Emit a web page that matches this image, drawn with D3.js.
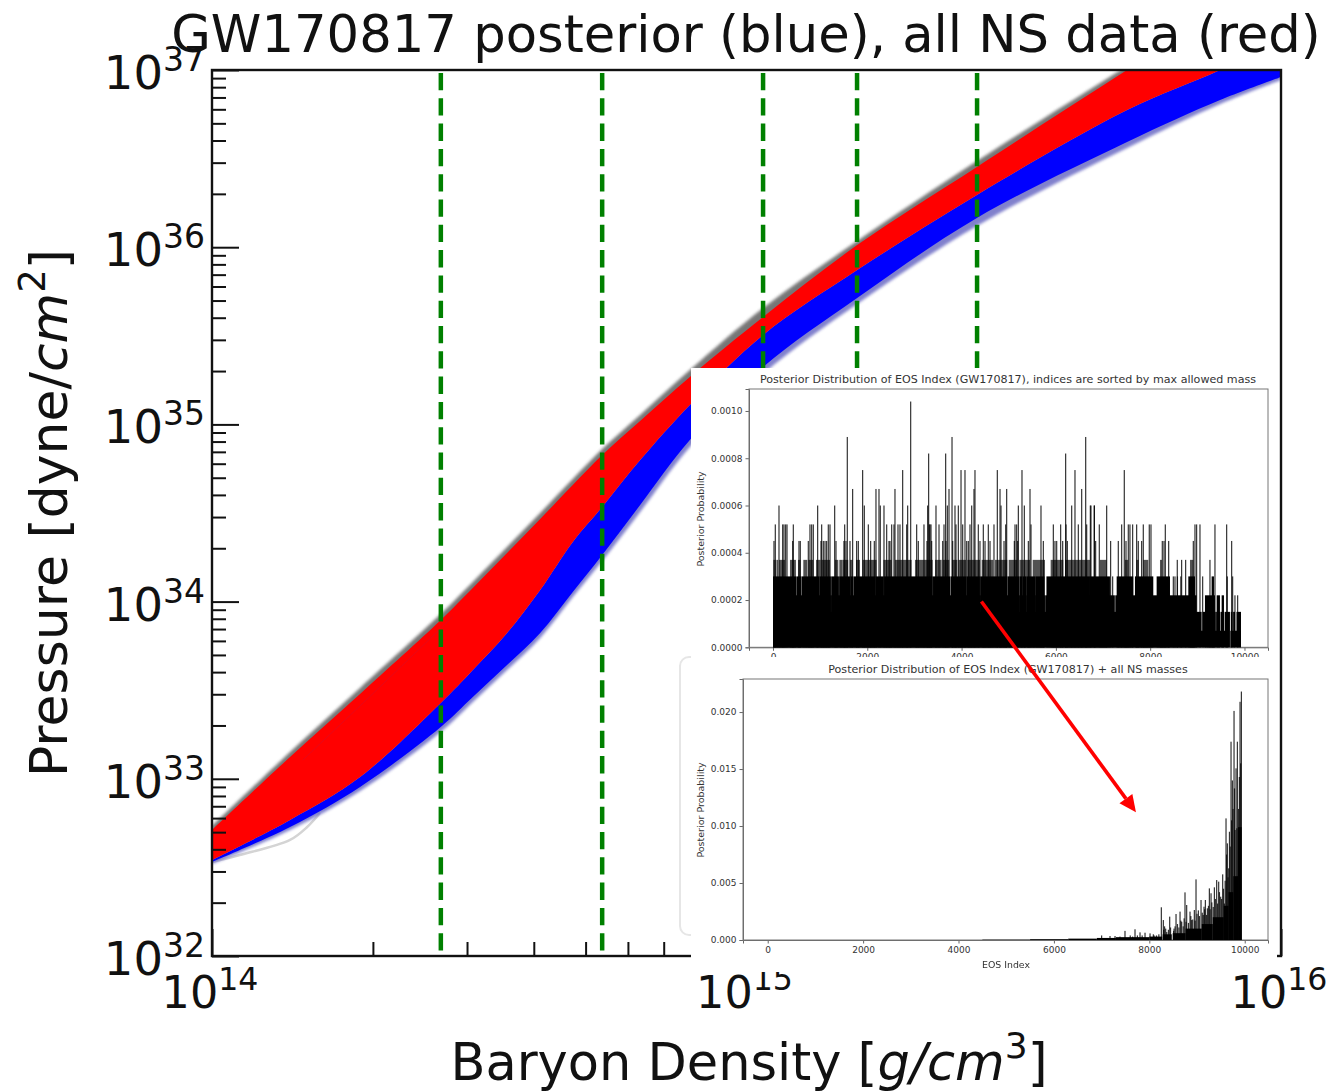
<!DOCTYPE html>
<html>
<head>
<meta charset="utf-8">
<title>GW170817 posterior</title>
<script src="https://cdn.jsdelivr.net/npm/d3@7"></script>
<style>
  html, body { margin: 0; background: #fff; }
  svg { display: block; }
  text { font-family: "DejaVu Sans", sans-serif; fill: #111; }
  .inset text { fill: #333; }
  .inset .domain, .inset .tick line { stroke: #666; stroke-width: 1; }
</style>
</head>
<body>
<svg id="chart" width="1332" height="1091"></svg>
<script>
// === Datos: bandas (log10 densidad, log10 presion) ===
const logDensity = [14.000, 14.146, 14.277, 14.428, 14.488, 14.552, 14.614, 14.675, 14.730, 14.801, 14.894, 15.031, 15.207, 15.431, 15.712, 15.886, 16.000];
const haloTop    = [32.734, 33.151, 33.513, 33.930, 34.111, 34.308, 34.500, 34.692, 34.861, 35.053, 35.307, 35.657, 36.035, 36.486, 37.023, 37.350, 37.553];
const redTop     = [32.711, 33.123, 33.479, 33.896, 34.077, 34.274, 34.466, 34.658, 34.827, 35.019, 35.268, 35.606, 36.012, 36.453, 37.000, 37.327, 37.536];
const redBottom  = [32.542, 32.768, 33.010, 33.428, 33.614, 33.823, 34.066, 34.337, 34.534, 34.799, 35.110, 35.505, 35.871, 36.295, 36.774, 37.000, 37.169];
const blueBottom = [32.530, 32.728, 32.954, 33.293, 33.462, 33.642, 33.823, 34.054, 34.263, 34.545, 34.912, 35.324, 35.713, 36.165, 36.594, 36.831, 36.960];
const haloBottom = [32.519, 32.711, 32.931, 33.265, 33.434, 33.614, 33.795, 34.026, 34.229, 34.506, 34.873, 35.285, 35.680, 36.120, 36.560, 36.808, 36.944];

// curva gris suelta abajo a la izquierda, y linea tenue dentro del rojo
const strayDensity = [14.000, 14.052, 14.146, 14.178, 14.202];
const strayPressure = [32.530, 32.570, 32.655, 32.728, 32.807];
const faintDensity = [14.170, 14.314, 14.450];
const faintPressure = [33.106, 33.518, 33.913];

const densityMarks = [2.68e14, 5.37e14, 1.074e15, 1.61e15, 2.70e15];

const xMajor = [1e14, 1e15, 1e16];
const yMajor = [1e32, 1e33, 1e34, 1e35, 1e36, 1e37];
const multiples = [2, 3, 4, 5, 6, 7, 8, 9];

// === Datos: inset 1 (GW170817) ===
const eos1Probs = [0.00104, 0.00089, 0.00082, 0.00075, 0.00067, 0.0006, 0.00052, 0.00045, 0.00037, 0.0003, 0.00022];
const eos1Spikes = [
  [2920],
  [1576, 3797, 6632],
  [3301, 3662, 6207],
  [1901, 2750, 3988, 4072, 4284, 4758, 5281, 6405, 7451],
  [1689, 2184, 2248, 2587, 3733, 4263, 4815, 4956, 5451, 6547],
  [127, 947, 1308, 1937, 2276, 2354, 2856, 3280, 3457, 3698, 3860, 3931, 4214, 4836, 5204, 5331, 5684, 6335, 6731, 6816, 6744, 6815, 7077],
  [49, 205, 233, 268, 297, 431, 784, 820, 855, 1032, 1173, 1209, 1520, 2022, 2411, 2517, 2566, 2651, 2693, 2835, 3047, 3202, 3316, 3351,
   3330, 3521, 3627, 3881, 4023, 4178, 4355, 4461, 4567, 4687, 4935, 5133, 5168, 5472, 5946, 6101, 6215, 6476, 6653,
   6921, 7395, 7536, 7571, 7628, 7713, 7854, 7981, 8017, 8321, 8950, 8985, 9056, 9374, 9622],
  [21, 417, 551, 579, 749, 1018, 1067, 1103, 1138, 1336, 1505, 1548, 1633, 1774, 1810, 2071, 2149, 2460, 2481, 3082, 3266,
   3365, 3599, 3669, 3811, 4108, 4143, 4390, 4497, 4603, 4900, 5119, 5189, 5416, 5734, 5981, 6017, 6144, 6243,
   6843, 7161, 7324, 7487, 7748, 7819, 8257, 8293, 8392, 8915, 9728],
  [8575, 8667, 8752, 9268],
  [7204, 8491, 8526, 8578, 8650, 9113, 9636, 9749],
  [9798, 9855]
];
const eos1BlockProbs = [0.00037, 0.0003, 0.00022, 0.00015, 0.00007];
const eos1BlockAlpha = [0.68, 1, 1, 1, 1];
const eos1Blocks = [
  [[7, 60], [72, 110], [125, 254], [360, 487], [530, 586], [643, 728], [749, 855], [912, 1010], [1032, 1209], [1315, 1385], [1407, 1477], [1477, 1597],
   [1633, 1689], [1760, 1845], [1901, 2198], [2340, 2517], [2587, 2940], [3011, 3387], [3436, 3577], [3599, 3740], [3797, 3910], [3931, 4094],
   [4122, 4391], [4426, 4673], [4709, 4970], [4999, 5182], [5225, 5451], [5508, 5769], [5889, 6158], [6193, 6723], [6935, 7077], [7465, 7536],
   [7705, 7755], [7854, 7960], [8208, 8250], [8844, 8915]],
  [[0, 488], [494, 606], [612, 985], [990, 1228], [1234, 1398], [1404, 1638], [1644, 1698], [1704, 2178], [2184, 2350], [2356, 3388], [3394, 3763],
   [3769, 4106], [4112, 4388], [4394, 4968], [4974, 5228], [5234, 5288], [5294, 5368], [5374, 5558], [5564, 5758], [5800, 6723], [6723, 7147],
   [7289, 7642], [7677, 8066], [8137, 8420], [8809, 8950], [9303, 9353]],
  [[0, 675], [681, 1227], [1233, 2218], [2224, 4388], [4394, 4777], [4783, 5237], [5243, 5308], [5314, 5378], [5384, 5555], [5561, 5767], [5773, 6594],
   [6600, 7250], [7260, 8985], [9162, 9374], [9410, 9480], [9516, 9565]],
  [[0, 9091], [9113, 9190], [9200, 9390], [9400, 9490], [9500, 9570], [9582, 9692], [9710, 9740], [9760, 9800], [9830, 9926]],
  [[0, 9664], [9700, 9926]]
];

// === Datos: inset 2 (GW170817 + masas NS) ===
const eos2Start = [4500, 5500, 6300, 6900, 7300, 8000, 8280, 8490, 8760, 9100, 9330, 9560, 9660, 9760, 9860];
const eos2End   = [5500, 6300, 6900, 7300, 8000, 8270, 8470, 8760, 9100, 9330, 9560, 9660, 9760, 9860, 9935];
const eos2Prob  = [0.00003, 0.00007, 0.00012, 0.00018, 0.00025, 0.0003, 0.0005, 0.0006, 0.001, 0.0014, 0.002, 0.003, 0.0042, 0.0056, 0.0099];
const eos2SpikeIdx  = [7000, 7176, 7281, 7385, 7490, 7600, 7650, 7700, 7750, 7805, 7850, 7910, 8015, 8084, 8100, 8150, 8200, 8252, 8294, 8300, 8320, 8343, 8365, 8400, 8427, 8445,
  8510, 8518, 8540, 8560, 8590, 8620, 8644, 8660, 8679, 8710, 8730, 8748, 8770, 8783, 8820, 8853, 8870, 8888, 8910, 8944, 8960, 8979,
  9000, 9028, 9050, 9084, 9110, 9130, 9147, 9160, 9175, 9200, 9217, 9240, 9259, 9275, 9294, 9310, 9340, 9364, 9385, 9412, 9430, 9454, 9470, 9496, 9515, 9538, 9555, 9573, 9590,
  9608, 9620, 9636, 9650, 9664, 9680, 9695, 9713, 9725, 9741, 9755, 9776, 9785, 9797, 9818, 9835, 9846, 9870, 9888, 9902, 9915, 9930];
const eos2SpikeProb = [0.0004, 0.00035, 0.00035, 0.0003, 0.0008, 0.0004, 0.0003, 0.00094, 0.0004, 0.00067, 0.0004, 0.00064, 0.00058, 0.0005, 0.0004, 0.0004, 0.0005, 0.00287, 0.00175, 0.0009, 0.0012, 0.001, 0.0007, 0.0009, 0.00205, 0.0011,
  0.0008, 0.001, 0.0012, 0.00228, 0.0014, 0.0011, 0.00249, 0.0017, 0.0016, 0.0012, 0.0019, 0.00418, 0.0016, 0.00307, 0.0015, 0.00249, 0.0021, 0.00175, 0.0018, 0.00263, 0.0017, 0.00532,
  0.0023, 0.0026, 0.0021, 0.00351, 0.0024, 0.0022, 0.00292, 0.0027, 0.00351, 0.0022, 0.00278, 0.003, 0.00453, 0.0027, 0.0041, 0.0033, 0.0029, 0.00462, 0.0036, 0.00526, 0.0032, 0.00512, 0.0042, 0.0038, 0.0036, 0.00576, 0.0045, 0.0032, 0.0052,
  0.01067, 0.0075, 0.00848, 0.0055, 0.00629, 0.0095, 0.0082, 0.0174, 0.0105, 0.014, 0.0115, 0.0201, 0.0133, 0.00965, 0.01506, 0.0098, 0.0174, 0.0115, 0.0143, 0.0209, 0.0155, 0.0218];

const eos1Ticks = [0, 0.0002, 0.0004, 0.0006, 0.0008, 0.001];
const eos2Ticks = [0, 0.005, 0.01, 0.015, 0.02];
const eosIndexTicks = [0, 2000, 4000, 6000, 8000, 10000];

// flecha: de un punto del inset 1 a uno del inset 2
const arrowFrom = { index: 4420, prob: 0.000194 };
const arrowTo = { index: 7720, prob: 0.0112 };

// === Escalas ===
const svg = d3.select('#chart');
const x = d3.scaleLog().domain([1e14, 1e16]).range([212, 1281]);
const y = d3.scaleLog().domain([1e32, 1e37]).range([956, 70]);

const defs = svg.append('defs');
defs.append('clipPath').attr('id', 'plotClip').append('rect')
  .attr('x', 212).attr('y', 70).attr('width', 1069).attr('height', 886);
defs.append('filter').attr('id', 'soft').append('feGaussianBlur').attr('stdDeviation', 0.7);
defs.append('filter').attr('id', 'halo').append('feGaussianBlur').attr('stdDeviation', 1.5);
defs.append('filter').attr('id', 'barBlur').append('feGaussianBlur').attr('stdDeviation', 0.45);

const smooth = d3.curveCatmullRom.alpha(0.5);
function bandPath(top, bottom) {
  return d3.area()
    .x(d => x(10 ** d))
    .y0((d, i) => y(10 ** bottom[i]))
    .y1((d, i) => y(10 ** top[i]))
    .curve(smooth)(logDensity);
}
function linePath(dens, press) {
  return d3.line()
    .x(d => x(10 ** d[0]))
    .y(d => y(10 ** d[1]))
    .curve(smooth)(dens.map((d, i) => [d, press[i]]));
}

// === Bandas ===
const plot = svg.append('g').attr('clip-path', 'url(#plotClip)');
plot.append('path').attr('d', linePath(strayDensity, strayPressure)).attr('fill', 'none').attr('stroke', '#d4d4d4').attr('stroke-width', 2.5).attr('filter', 'url(#soft)');
plot.append('path').attr('d', bandPath(haloTop, redBottom)).attr('fill', '#555').attr('opacity', 0.8).attr('filter', 'url(#halo)');
plot.append('path').attr('d', bandPath(redBottom, haloBottom)).attr('fill', '#6a6ac4').attr('opacity', 0.85).attr('filter', 'url(#halo)');
plot.append('path').attr('d', bandPath(redBottom, blueBottom)).attr('fill', '#0000ff').attr('filter', 'url(#soft)');
plot.append('path').attr('d', bandPath(redTop, redBottom)).attr('fill', '#ff0000').attr('filter', 'url(#soft)');
plot.append('path').attr('d', linePath(faintDensity, faintPressure)).attr('fill', 'none').attr('stroke', '#d01030').attr('stroke-width', 1).attr('opacity', 0.5);

// === Lineas verdes ===
svg.append('g').selectAll('line').data(densityMarks).join('line')
  .attr('x1', d => x(d)).attr('x2', d => x(d))
  .attr('y1', 73).attr('y2', 956)
  .attr('stroke', '#008000').attr('stroke-width', 4.5)
  .attr('stroke-dasharray', '17.3 8');

// === Ejes principales ===
function minorOf(majors) {
  return majors.slice(0, -1).flatMap(m => multiples.map(k => m * k));
}
const axes = svg.append('g').attr('class', 'main-axes');
function drawAxis(axis) {
  return g => {
    g.call(axis);
    g.selectAll('.tick text').remove();
    g.selectAll('.tick line').attr('stroke', '#111').attr('stroke-width', 2);
    g.select('.domain').remove();
  };
}
axes.append('g').attr('transform', 'translate(0,956)').call(drawAxis(d3.axisBottom(x).tickValues(xMajor).tickSize(-27)));
axes.append('g').attr('transform', 'translate(0,956)').call(drawAxis(d3.axisBottom(x).tickValues(minorOf(xMajor)).tickSize(-14)));
axes.append('g').attr('transform', 'translate(212,0)').call(drawAxis(d3.axisLeft(y).tickValues(yMajor).tickSize(-27)));
axes.append('g').attr('transform', 'translate(212,0)').call(drawAxis(d3.axisLeft(y).tickValues(minorOf(yMajor)).tickSize(-14)));
axes.append('rect').attr('x', 212).attr('y', 70).attr('width', 1069).attr('height', 886)
  .attr('fill', 'none').attr('stroke', '#111').attr('stroke-width', 2.4);

// etiquetas 10^n
function powerLabel(parent, value, px, py, anchor, size) {
  const t = parent.append('text').attr('x', px).attr('y', py).attr('text-anchor', anchor).attr('font-size', size);
  t.append('tspan').text('10');
  t.append('tspan').attr('font-size', size * 0.71).attr('dy', -18).text(Math.round(Math.log10(value)));
}
xMajor.forEach(v => powerLabel(svg, v, x(v) - 2, 1008, 'middle', 44.5));
yMajor.forEach(v => powerLabel(svg, v, 205, y(v) + 19, 'end', 46.5));

// === Titulos ===
svg.append('text').attr('x', 746).attr('y', 52).attr('text-anchor', 'middle').attr('font-size', 51.2)
  .text('GW170817 posterior (blue), all NS data (red)');

const xTitle = svg.append('text').attr('x', 749).attr('y', 1080).attr('text-anchor', 'middle').attr('font-size', 51);
xTitle.append('tspan').text('Baryon Density [');
xTitle.append('tspan').attr('font-style', 'italic').text('g/cm');
xTitle.append('tspan').attr('font-size', 36).attr('dy', -22).text('3');
xTitle.append('tspan').attr('dy', 22).text(']');

const yTitle = svg.append('text').attr('transform', 'translate(67,513) rotate(-90)').attr('text-anchor', 'middle').attr('font-size', 52);
yTitle.append('tspan').text('Pressure [dyne/');
yTitle.append('tspan').attr('font-style', 'italic').text('cm');
yTitle.append('tspan').attr('font-size', 37).attr('dy', -22).text('2');
yTitle.append('tspan').attr('dy', 22).text(']');

// === Insets ===
svg.append('rect').attr('x', 680).attr('y', 657).attr('width', 60).attr('height', 278).attr('rx', 9)
  .attr('fill', 'none').attr('stroke', '#e6e6e6').attr('stroke-width', 2);
svg.append('rect').attr('x', 691).attr('y', 368).attr('width', 586).attr('height', 604).attr('fill', '#fff');

function inset(box, xDomain, yDomain, yTicks, fmt, title, titleY, labelY) {
  const g = svg.append('g').attr('class', 'inset');
  const sx = d3.scaleLinear().domain(xDomain).range([box.left, box.right]);
  const sy = d3.scaleLinear().domain(yDomain).range([box.bottom, box.top]);
  g.append('g').attr('transform', `translate(0,${box.bottom})`)
    .call(d3.axisBottom(sx).tickValues(eosIndexTicks).tickSize(3.5).tickPadding(3).tickFormat(d3.format('d')));
  g.append('g').attr('transform', `translate(${box.left},0)`)
    .call(d3.axisLeft(sy).tickValues(yTicks).tickSize(3.5).tickPadding(3).tickFormat(d3.format(fmt)));
  g.append('rect').attr('x', box.left).attr('y', box.top).attr('width', box.right - box.left).attr('height', box.bottom - box.top)
    .attr('fill', 'none').attr('stroke', '#777').attr('stroke-width', 1);
  g.append('text').attr('x', 1008).attr('y', titleY).attr('text-anchor', 'middle').style('font-size', '11.1px').text(title);
  g.append('text').attr('transform', `translate(704,${labelY}) rotate(-90)`).attr('text-anchor', 'middle').style('font-size', '9.5px').text('Posterior Probability');
  g.selectAll('.tick text').style('font-size', '9px');
  return { g, sx, sy, bars: g.append('g').attr('filter', 'url(#barBlur)') };
}

const top1 = inset({ left: 749, right: 1268, top: 389, bottom: 647.3 }, [-509, 10499], [0, 0.001093], eos1Ticks, '.4f',
  'Posterior Distribution of EOS Index (GW170817), indices are sorted by max allowed mass', 383, 519);

eos1BlockProbs.forEach((p, i) => {
  top1.bars.append('g').attr('opacity', eos1BlockAlpha[i]).selectAll('rect').data(eos1Blocks[i]).join('rect')
    .attr('x', d => top1.sx(d[0])).attr('width', d => top1.sx(d[1]) - top1.sx(d[0]))
    .attr('y', top1.sy(p)).attr('height', top1.sy(0) - top1.sy(p)).attr('fill', '#000');
});
eos1Probs.forEach((p, i) => {
  top1.bars.append('g').selectAll('rect').data(eos1Spikes[i]).join('rect')
    .attr('x', d => top1.sx(d) - 0.6).attr('width', 1.2)
    .attr('y', top1.sy(p)).attr('height', top1.sy(0) - top1.sy(p)).attr('fill', '#000').attr('opacity', 0.8);
});

// el segundo inset tapa las etiquetas del primero
svg.append('rect').attr('x', 691).attr('y', 657).attr('width', 586).attr('height', 315).attr('fill', '#fff');

const bottom2 = inset({ left: 743, right: 1268, top: 679, bottom: 940 }, [-518, 10488], [0, 0.0229], eos2Ticks, '.3f',
  'Posterior Distribution of EOS Index (GW170817) + all NS masses', 673, 810);
bottom2.g.append('text').attr('x', 1006).attr('y', 968).attr('text-anchor', 'middle').style('font-size', '9.4px').text('EOS Index');

bottom2.bars.selectAll('rect.block').data(eos2Start).join('rect').attr('class', 'block')
  .attr('x', d => bottom2.sx(d)).attr('width', (d, i) => bottom2.sx(eos2End[i]) - bottom2.sx(d))
  .attr('y', (d, i) => bottom2.sy(eos2Prob[i])).attr('height', (d, i) => bottom2.sy(0) - bottom2.sy(eos2Prob[i]))
  .attr('fill', '#000');
bottom2.bars.selectAll('rect.spike').data(eos2SpikeIdx).join('rect').attr('class', 'spike')
  .attr('x', d => bottom2.sx(d) - 0.6).attr('width', 1.2)
  .attr('y', (d, i) => bottom2.sy(eos2SpikeProb[i])).attr('height', (d, i) => bottom2.sy(0) - bottom2.sy(eos2SpikeProb[i]))
  .attr('fill', '#000').attr('opacity', 0.8);

// === Flecha roja ===
const ax0 = top1.sx(arrowFrom.index), ay0 = top1.sy(arrowFrom.prob);
const ax1 = bottom2.sx(arrowTo.index), ay1 = bottom2.sy(arrowTo.prob);
const ang = Math.atan2(ay1 - ay0, ax1 - ax0);
const headLen = 17, headHalf = 8;
const bx = ax1 - headLen * Math.cos(ang), by = ay1 - headLen * Math.sin(ang);
svg.append('line').attr('x1', ax0).attr('y1', ay0).attr('x2', bx).attr('y2', by)
  .attr('stroke', '#ff0000').attr('stroke-width', 3.6);
svg.append('path').attr('fill', '#ff0000')
  .attr('d', d3.line()([
    [ax1, ay1],
    [bx + headHalf * Math.sin(ang), by - headHalf * Math.cos(ang)],
    [bx - headHalf * Math.sin(ang), by + headHalf * Math.cos(ang)]
  ]) + 'Z');
</script>
</body>
</html>
